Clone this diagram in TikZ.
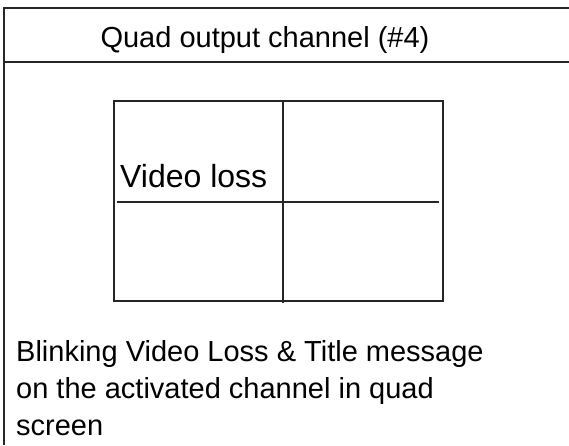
\documentclass[tikz,border=0pt]{standalone}
\usepackage{fontspec}
\setmainfont{Liberation Sans}
\begin{document}
\begin{tikzpicture}[x=1pt,y=-1pt,
  frameline/.style={line width=2pt,draw=black!85},
  gridline/.style={line width=1.6pt,draw=black!85},
  txt/.style={inner sep=0pt,font=\fontsize{29}{37}\selectfont}]
\useasboundingbox (0,0) rectangle (569,445);
% frame
\coordinate (ftl) at (4,8);
\coordinate (ftr) at (569,8);
\coordinate (fbl) at (4,445);
\coordinate (fsl) at (4,62);
\coordinate (fsr) at (569,62);
\draw[frameline] (ftr) -- (ftl) -- (fbl);
\draw[frameline] (fsl) -- (fsr);
% title
\node[txt,anchor=base] (title) at (265,47) {Quad output channel (\#4)};
% quad grid
\coordinate (qtl) at (114,101);
\coordinate (qbr) at (443,301);
\coordinate (qvt) at (283,101);
\coordinate (qvb) at (283,303);
\coordinate (qhl) at (117,202);
\coordinate (qhr) at (439,202);
\draw[gridline] (qtl) rectangle (qbr);
\draw[gridline] (qvt) -- (qvb);
\draw[gridline] (qhl) -- (qhr);
\node[txt,font=\fontsize{32}{38}\selectfont,anchor=base west] (vloss) at (120,187) {Video loss};
% description
\node[txt,anchor=base west,align=left] (desc) at (16,435) {Blinking Video Loss \& Title message\\on the activated channel in quad\\screen};
\end{tikzpicture}
\end{document}
